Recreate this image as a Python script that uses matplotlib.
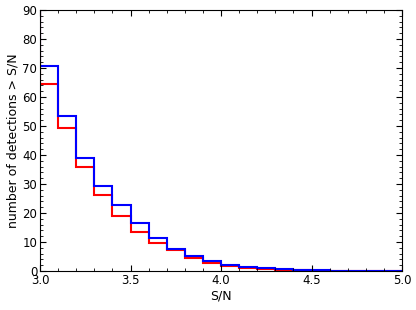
import matplotlib
matplotlib.use('Agg')
from matplotlib import pyplot as plt
from matplotlib.ticker import MultipleLocator
import numpy as np

# bin edges of S/N (first bin runs off the top of the axes)
edges = np.round(np.arange(2.9, 5.0001, 0.1), 2)

# number of detections above S/N, per bin
blue_counts = [100, 70.8, 53.6, 39.0, 29.4, 22.6, 16.6, 11.5, 7.7, 5.2, 3.4,
               2.2, 1.4, 0.9, 0.6, 0.35, 0.2, 0.15, 0.1, 0.05, 0.0]
red_counts = [100, 64.5, 49.3, 35.8, 26.1, 19.1, 13.3, 9.8, 7.2, 4.5, 2.9,
              1.7, 1.0, 0.6, 0.35, 0.2, 0.1, 0.05, 0.02, 0.0, 0.0]

plt.rcParams['font.family'] = 'DejaVu Sans'
plt.rcParams['font.size'] = 8

fig = plt.figure(figsize=(4.16, 3.10), dpi=100)
ax = fig.add_axes([40 / 416, 39 / 310, 362 / 416, 261 / 310])

ax.stairs(red_counts, edges, baseline=None, color='r', lw=1.5)
ax.stairs(blue_counts, edges, baseline=None, color='b', lw=1.5)

ax.set_xlim(3.0, 5.0)
ax.set_ylim(0, 90)
ax.xaxis.set_major_locator(MultipleLocator(0.5))
ax.xaxis.set_minor_locator(MultipleLocator(0.1))
ax.yaxis.set_major_locator(MultipleLocator(10))
ax.yaxis.set_minor_locator(MultipleLocator(2))
ax.tick_params(which='both', direction='in', top=True, right=True)
ax.tick_params(which='major', length=4, pad=2, labelsize=8.5)
ax.tick_params(which='minor', length=2)

ax.set_xlabel('S/N', labelpad=2, fontsize=9)
ax.set_ylabel('number of detections > S/N', labelpad=2, fontsize=9)

fig.savefig('out.png', dpi=100)
